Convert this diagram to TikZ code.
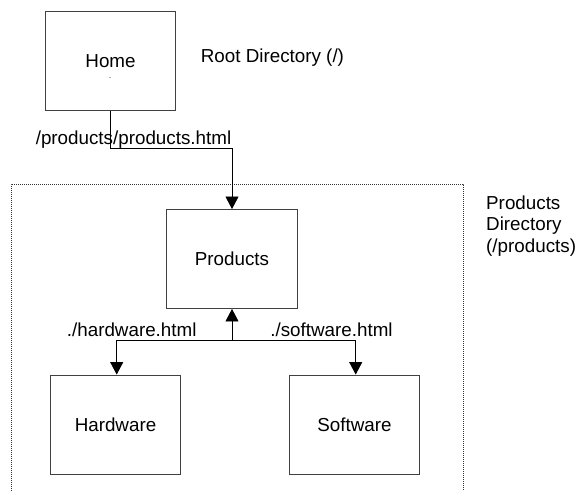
\documentclass[tikz,border=0pt]{standalone}
\usepackage{fontspec}
\setmainfont{Liberation Sans}
\usetikzlibrary{arrows.meta}
\begin{document}
\begin{tikzpicture}[x=1pt,y=-1pt,
  font=\fontsize{18.8}{21.5}\selectfont,
  pagebox/.style={draw=black!75, line width=0.9pt, minimum width=130.5pt, minimum height=99pt, inner sep=0pt},
  link/.style={draw=black, line width=0.8pt},
  arr/.style={link, -{Triangle[length=12.5pt,width=13pt]}},
  lbl/.style={inner sep=0pt, anchor=base},
  dir/.style={draw=black!80, line width=0.8pt, dash pattern=on 1pt off 1pt}
]
\useasboundingbox (0,0) rectangle (577,491);
% directory frame
\draw[dir] (11,491) -- (11,184) -- (463,184) -- (463,491);
% pages
\node[pagebox] (home) at (110.5,61) {Home};
\fill[black!60] (110,77.5) circle (0.6pt);
\node[pagebox] (products) at (232,259) {Products};
\node[pagebox] (hardware) at (115.5,424.5) {Hardware};
\node[pagebox] (software) at (354.5,424.5) {Software};
% directory labels
\node[inner sep=0pt, anchor=base west] (rootdir) at (200.7,62.5) {Root Directory (/)};
\node[inner sep=0pt, anchor=north west, align=left] (proddir) at (486,195.6) {Products\\Directory\\(/products)};
% links
\draw[arr] (home.south) -- ++(0,37) -| (products.north);
\node[lbl] (l1) at (133.5,144) {/products/products.html};
\coordinate (j) at (232,340);
\draw[arr] (j) -- (products.south);
\draw[arr] (j) -| ([xshift=1.2pt]hardware.north);
\draw[arr] (j) -| ([xshift=1.2pt]software.north);
\node[lbl] (l2) at (131.7,336) {./hardware.html};
\node[lbl] (l3) at (331.5,336) {./software.html};
\end{tikzpicture}
\end{document}
